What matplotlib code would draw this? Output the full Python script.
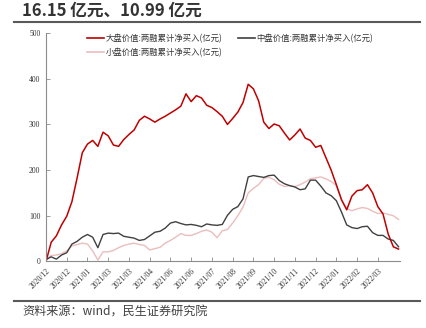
import matplotlib
matplotlib.use("Agg")
import matplotlib.pyplot as plt
from matplotlib.lines import Line2D

plt.rcParams['font.family'] = ['Noto Sans CJK SC', 'DejaVu Sans']

# trading-day index of each sample (every 5 trading days)
day_idx = list(range(0, 341, 5))

# cumulative net margin buying, 100 million yuan
large_value = [0, 42, 56, 80, 99, 131, 183, 238, 257, 265,
               252, 283, 275, 255, 252, 267, 278, 288, 309, 318,
               312, 305, 312, 318, 325, 332, 340, 367, 350, 363,
               358, 342, 337, 328, 318, 300, 313, 327, 348, 388,
               378, 352, 305, 291, 301, 297, 281, 266, 277, 290,
               270, 265, 250, 254, 227, 200, 168, 135, 113, 143,
               155, 157, 168, 150, 120, 104, 60, 32, 27]
mid_value = [4, 10, 5, 14, 19, 38, 44, 53, 59, 53,
             30, 59, 62, 61, 62, 55, 53, 51, 46, 48,
             56, 64, 66, 73, 84, 87, 83, 80, 81, 79,
             76, 82, 80, 79, 81, 101, 114, 120, 137, 185,
             188, 186, 184, 188, 189, 177, 170, 166, 163, 157,
             159, 178, 178, 165, 150, 144, 133, 108, 80, 74,
             72, 76, 77, 63, 57, 57, 49, 46, 32]
small_value = [4, 13, 14, 17, 23, 34, 37, 40, 38, 23,
               3, 21, 21, 24, 30, 35, 38, 40, 37, 35,
               25, 28, 31, 40, 46, 53, 61, 57, 57, 61,
               66, 69, 64, 52, 67, 70, 84, 100, 119, 150,
               160, 168, 182, 184, 179, 169, 164, 166, 164, 168,
               174, 181, 183, 185, 181, 175, 166, 135, 116, 111,
               115, 118, 116, 110, 105, 106, 103, 100, 92]

series_names = ["大盘价值:两融累计净买入(亿元)",
                "中盘价值:两融累计净买入(亿元)",
                "小盘价值:两融累计净买入(亿元)"]

tick_idx = list(range(0, 321, 20))
tick_labels = ["2020/12", "2020/12", "2021/01", "2021/03", "2021/03",
               "2021/04", "2021/06", "2021/06", "2021/07", "2021/08",
               "2021/09", "2021/10", "2021/11", "2021/12", "2022/01",
               "2022/02", "2022/03"]

colors = ["#C00000", "#404040", "#EBBDBD"]

fig = plt.figure(figsize=(4.26, 3.28), dpi=100)
ax = fig.add_axes([0.108, 0.203, 0.830, 0.696])

ax.plot(day_idx, small_value, color=colors[2], lw=1.0)
ax.plot(day_idx, mid_value, color=colors[1], lw=1.0)
ax.plot(day_idx, large_value, color=colors[0], lw=1.1)

ax.set_xlim(0, 341)
ax.set_ylim(0, 500)
ax.set_yticks([0, 100, 200, 300, 400, 500])
ax.set_xticks(tick_idx)
ax.set_xticklabels(tick_labels, rotation=45, ha="right", rotation_mode="anchor")

for side in ["top", "right"]:
    ax.spines[side].set_visible(False)
for side in ["left", "bottom"]:
    ax.spines[side].set_color("#8c8c8c")
    ax.spines[side].set_linewidth(0.8)
ax.tick_params(direction="in", length=3, width=0.6, color="#8c8c8c",
               labelsize=5.5, labelcolor="#333333", pad=4)
for lab in ax.get_xticklabels() + ax.get_yticklabels():
    lab.set_family("Liberation Serif")

# legend fills column by column: red and pink in the first, dark grey in the second
handles = [Line2D([], [], color=c, lw=1.2) for c in colors]
ax.legend([handles[0], handles[2], handles[1]],
          [series_names[0], series_names[2], series_names[1]],
          ncol=2, frameon=False, fontsize=6, loc="upper left",
          bbox_to_anchor=(0.095, 1.03), handlelength=2.0, handletextpad=0.2,
          columnspacing=1.9, labelspacing=0.6, labelcolor="#333333")

# header and footer
fig.text(0.052, 0.953, "16.15 亿元、10.99 亿元", fontsize=12,
         fontweight="bold", color="#333333", va="baseline")
fig.add_artist(Line2D([0.033, 0.986], [0.933, 0.933], color="#595959", lw=1.5))
fig.add_artist(Line2D([0.033, 0.986], [0.082, 0.082], color="#595959", lw=1.5))
fig.text(0.052, 0.049, "资料来源：wind，民生证券研究院", fontsize=8.7,
         color="#404040", va="center")

fig.savefig("out.png", dpi=100)
